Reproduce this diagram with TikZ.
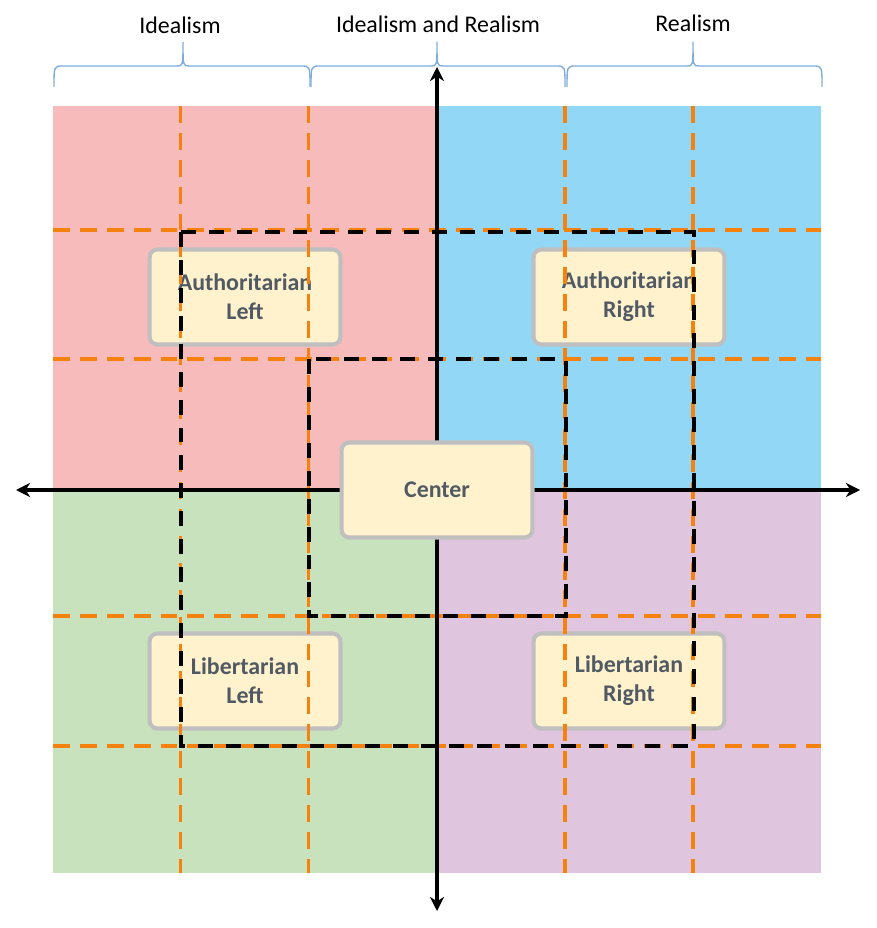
\documentclass[tikz,border=0pt]{standalone}
\usepackage{fontspec}
\setmainfont{Carlito}
\usepackage{xcolor}
\usetikzlibrary{arrows.meta,positioning,calc}

\definecolor{authleft}{HTML}{F8BBBB}
\definecolor{authright}{HTML}{92D7F5}
\definecolor{libleft}{HTML}{C8E2BE}
\definecolor{libright}{HTML}{E0C5DF}
\definecolor{gridorange}{HTML}{F5820E}
\definecolor{boxfill}{HTML}{FFF2CC}
\definecolor{boxline}{HTML}{BFBFBF}
\definecolor{boxtext}{HTML}{505A64}
\definecolor{bracecol}{HTML}{7FAEDC}

% llave estilo Office: extremo izquierdo, punta, extremo derecho (en px)
\newcommand{\spanbrace}[3]{%
  \draw[span] (#1,87) .. controls (#1,66) .. (#1+9,66) -- (#2-6,66)
    .. controls (#2,66) .. (#2,42) .. controls (#2,66) .. (#2+6,66)
    -- (#3-9,66) .. controls (#3,66) .. (#3,87);}

\begin{document}
\begin{tikzpicture}[x=0.02cm, y=-0.02cm,
    gridline/.style={gridorange, line width=2pt, dash pattern=on 9.6pt off 5.7pt},
    zone/.style={black, line width=2.2pt, dash pattern=on 8.5pt off 7.4pt},
    axis/.style={{Stealth[length=8pt, width=8pt, inset=2.5pt]}-{Stealth[length=8pt, width=8pt, inset=2.5pt]}, line width=1.8pt},
    corner/.style={draw=boxline, fill=boxfill, line width=2.3pt, rounded corners=4.5pt,
      minimum width=3.82cm, minimum height=1.9cm, align=center,
      text=boxtext, font=\fontsize{13.6}{16.4}\selectfont\bfseries},
    span/.style={bracecol, line width=0.8pt},
    spanlabel/.style={font=\fontsize{13.6}{16.4}\selectfont}
]
\useasboundingbox (0,0) rectangle (876,928);

% --- Cuadrantes ---
\fill[authleft]  (53,106) rectangle (437,490);
\fill[authright] (437,106) rectangle (821,490);
\fill[libleft]   (53,490) rectangle (437,873);
\fill[libright]  (437,490) rectangle (821,873);

% --- Cajas de las esquinas ---
\node[corner] (al) at (245,297) {Authoritarian\\Left};
\node[corner] (ar) at (629,297) {Authoritarian\\Right};
\node[corner] (ll) at (245,681) {Libertarian\\Left};
\node[corner] (lr) at (629,681) {Libertarian\\Right};

% --- Rejilla naranja ---
\foreach \gx in {180.5,308.5,565,693}
  \draw[gridline] (\gx,106) -- (\gx,873);
\foreach \gy in {230,359,616,746}
  \draw[gridline] (53,\gy) -- (821,\gy);

% --- Zonas punteadas ---
\draw[zone] (181,232) rectangle (694,746);
\draw[zone] (309,359) rectangle (566,616);

% --- Ejes ---
\coordinate (west)  at (16,490);
\coordinate (east)  at (860,490);
\coordinate (north) at (437,67);
\coordinate (south) at (437,911);
\draw[axis] (west) -- (east);
\draw[axis] (south) -- (north);

% --- Centro ---
\node[corner] (center) at (437,490) {Center};

% --- Llaves superiores ---
\spanbrace{54}{183}{310}
\spanbrace{311}{437}{565}
\spanbrace{567}{693}{822}
\node[spanlabel] (ideal) at (180,25) {Idealism};
\node[spanlabel] (both)  at (438,24) {Idealism and Realism};
\node[spanlabel] (real)  at (693,23) {Realism};
\end{tikzpicture}
\end{document}
